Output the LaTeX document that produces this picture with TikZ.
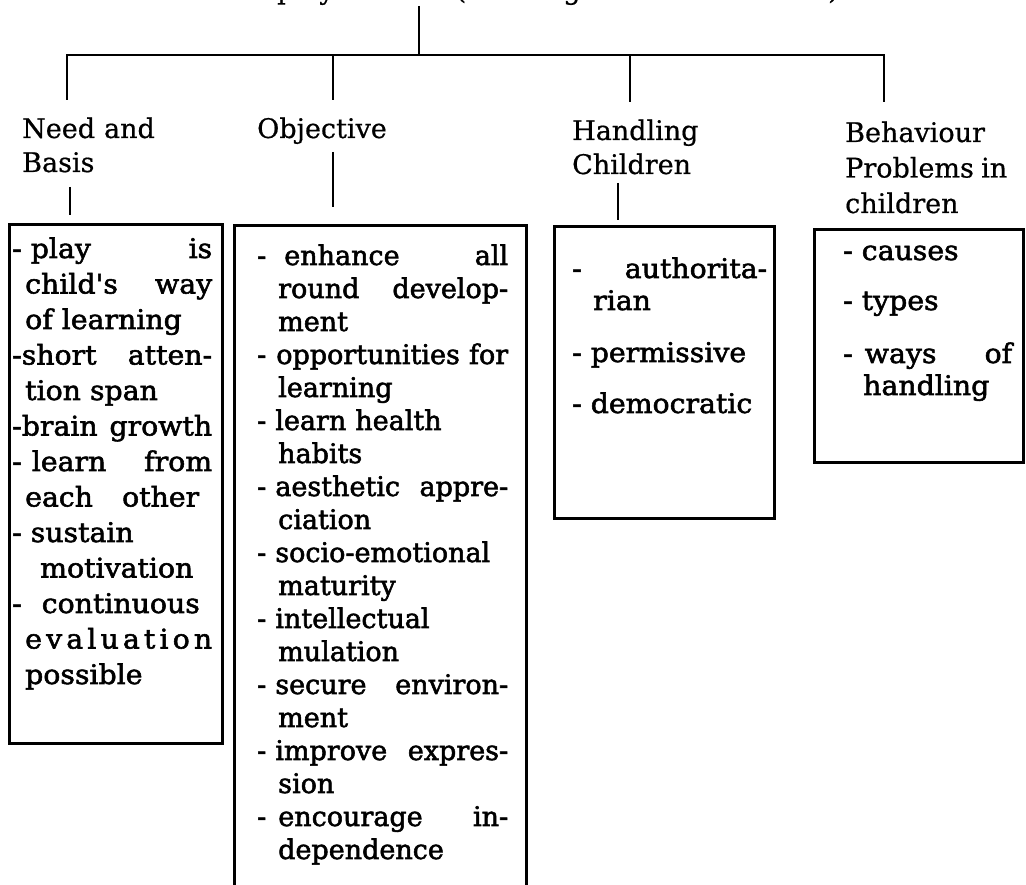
\documentclass[tikz,border=0pt]{standalone}
\usepackage{fontspec}
\setmainfont{DejaVu Serif}[FakeBold=0.6]
\newfontfamily\boxfont{DejaVu Serif}[FakeBold=2,FakeStretch=1.05]
\newfontfamily\objfont{DejaVu Serif}[FakeBold=2]
\newcommand{\justline}[2]{\makebox[#1][s]{#2}}
\begin{document}
\begin{tikzpicture}[x=1pt,y=-1pt,
  conn/.style={line width=2.7pt},
  boxframe/.style={draw, line width=2.7pt, inner sep=0pt, anchor=north west},
  head/.style={inner sep=0pt, anchor=base west, align=left, font=\fontsize{27}{34}\selectfont},
  btext/.style={inner sep=0pt, anchor=base west, align=left}]
\useasboundingbox (0,0) rectangle (1026,885);
\clip (0,0) rectangle (1026,885);

% title (cut off at the top edge, as in the reference)
\node[head, text width=600pt] (title) at (277,-1) {play method (learning centred activities)};

% tree connectors
\coordinate (top) at (419,6);
\coordinate (hub) at (419,55);
\coordinate (nA) at (67,100);
\coordinate (oA) at (333,100);
\coordinate (hA) at (630,102);
\coordinate (bA) at (884,102);
\draw[conn] (top) -- (hub);
\draw[conn] (nA) -- (nA |- hub) -- (bA |- hub) -- (bA);
\draw[conn] (oA |- hub) -- (oA);
\draw[conn] (hA |- hub) -- (hA);

% headings
\node[head, text width=150pt] (need) at (22,138) {Need and\\Basis};
\node[head, text width=150pt] (obj) at (257,138) {Objective};
\node[head, text width=170pt] (hand) at (572,140) {Handling\\Children};
\node[head, text width=165pt, font=\fontsize{27}{35.5}\selectfont] (beh) at (845,142)
  {Behaviour\\\justline{162pt}{Problems\hfill in}\\children};

% boxes
\node[boxframe, minimum width=213pt, minimum height=519pt] (b1) at (8,223) {};
\node[boxframe, minimum width=292pt, minimum height=690pt] (b2) at (233,224) {};
\node[boxframe, minimum width=220pt, minimum height=292pt] (b3) at (553,225) {};
\node[boxframe, minimum width=209pt, minimum height=233pt] (b4) at (813,228) {};

% stubs from headings to boxes
\coordinate (s1a) at (70,187);
\coordinate (s1b) at (70,215);
\coordinate (s2a) at (333,152);
\coordinate (s2b) at (333,207);
\coordinate (s3a) at (618,183);
\coordinate (s3b) at (618,220);
\draw[conn] (s1a) -- (s1b);
\draw[conn] (s2a) -- (s2b);
\draw[conn] (s3a) -- (s3b);

% box texts
\node[btext, text width=230pt, font=\boxfont\fontsize{27}{35.5}\selectfont] (t1) at (12,258) {%
\justline{200pt}{-~play\hfill is}\\
\hspace*{13pt}\justline{187pt}{child's\hfill way}\\
\hspace*{13pt}of learning\\
\justline{200pt}{-short\hfill atten-}\\
\hspace*{13pt}tion span\\
\justline{200pt}{-brain\hfill growth}\\
\justline{200pt}{-\hspace{10pt}learn\hfill from}\\
\hspace*{13pt}\justline{174pt}{each\hfill other}\\
-~sustain\\
\hspace*{28pt}motivation\\
-\hspace{20pt}continuous\\
\hspace*{13pt}\justline{187pt}{e\hfil v\hfil a\hfil l\hfil u\hfil a\hfil t\hfil i\hfil o\hfil n}\\
\hspace*{13pt}possible};

\node[btext, text width=290pt, font=\objfont\fontsize{27}{33}\selectfont] (t2) at (257,265) {%
\justline{251pt}{-\hspace{18pt}enhance\hfill all}\\
\hspace*{21pt}\justline{230pt}{round\hfill develop-}\\
\hspace*{21pt}ment\\
\justline{251pt}{-\hspace{10pt}opportunities\hfill for}\\
\hspace*{21pt}learning\\
\mbox{-~learn health}\\
\hspace*{21pt}habits\\
\justline{251pt}{-~aesthetic\hfill appre-}\\
\hspace*{21pt}ciation\\
\mbox{-~socio-emotional}\\
\hspace*{21pt}maturity\\
\mbox{-~intellectual}\\
\hspace*{21pt}mulation\\
\justline{251pt}{-~secure\hfill environ-}\\
\hspace*{21pt}ment\\
\justline{251pt}{-~improve\hfill expres-}\\
\hspace*{21pt}sion\\
\justline{251pt}{-\hspace{12pt}encourage\hfill in-}\\
\hspace*{21pt}dependence};

\node[btext, text width=230pt, font=\boxfont\fontsize{27}{32}\selectfont] (t3) at (572,278) {%
\justline{195pt}{-\hfill authorita-}\\
\hspace*{21pt}rian\\[20pt]
-~permissive\\[19pt]
-~democratic};

\node[btext, text width=200pt, font=\boxfont\fontsize{27}{32}\selectfont] (t4) at (843,260) {%
-~causes\\[18pt]
-~types\\[21pt]
\justline{169pt}{-\hspace{12pt}ways\hfill of}\\
\hspace*{20pt}handling};
\end{tikzpicture}
\end{document}
